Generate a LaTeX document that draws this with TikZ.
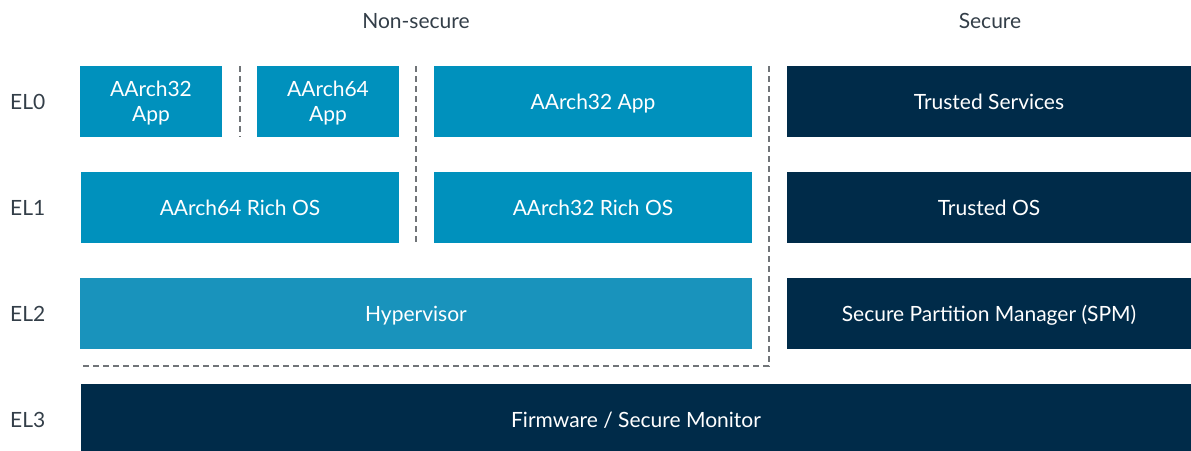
\documentclass[tikz,border=0pt]{standalone}
\usepackage{fontspec}
\setmainfont{Lato}
\definecolor{armblue}{HTML}{0091BD}
\definecolor{hypblue}{HTML}{1993BC}
\definecolor{armnavy}{HTML}{002B49}
\definecolor{labelgray}{HTML}{333E48}
\definecolor{dashgray}{HTML}{707478}
\tikzset{
  blk/.style={anchor=north west, inner sep=0pt, outer sep=0pt, text=white, align=center,
    font=\fontsize{21}{25}\selectfont, text height=15pt, text depth=0pt},
  twoline/.style={text height=40pt, text depth=0pt},
  nsbox/.style={blk, fill=armblue},
  hypbox/.style={blk, fill=hypblue},
  sbox/.style={blk, fill=armnavy},
  lbl/.style={text=labelgray, font=\fontsize{21}{25}\selectfont, inner sep=0pt, text height=15pt, text depth=0pt},
  sep/.style={draw=dashgray, line width=1.6pt, dash pattern=on 6pt off 4pt}
}
\begin{document}
\begin{tikzpicture}[x=1pt,y=-1pt]
\useasboundingbox (0,0) rectangle (1191,450);
\clip (0,0) rectangle (1191,450);
% headers
\node[lbl] (ns) at (416,21) {Non-secure};
\node[lbl] (sec) at (990,21) {Secure};
% EL labels
\node[lbl, anchor=west] (el0) at (10,101.5) {EL0};
\node[lbl, anchor=west] (el1) at (10,207.5) {EL1};
\node[lbl, anchor=west] (el2) at (10,313.5) {EL2};
\node[lbl, anchor=west] (el3) at (10,419.5) {EL3};
% EL0
\node[nsbox, twoline, minimum width=142pt, minimum height=71pt] (app32a) at (80,66) {AArch32\\App};
\node[nsbox, twoline, minimum width=142pt, minimum height=71pt] (app64) at (257,66) {AArch64\\App};
\node[nsbox, minimum width=318pt, minimum height=71pt] (app32b) at (434,66) {AArch32 App};
\node[sbox, minimum width=404pt, minimum height=71pt] (ts) at (787,66) {Trusted Services};
% EL1
\node[nsbox, minimum width=318pt, minimum height=71pt] (os64) at (81,172) {AArch64 Rich OS};
\node[nsbox, minimum width=318pt, minimum height=71pt] (os32) at (434,172) {AArch32 Rich OS};
\node[sbox, minimum width=404pt, minimum height=71pt] (tos) at (787,172) {Trusted OS};
% EL2
\node[hypbox, minimum width=672pt, minimum height=71pt] (hyp) at (80,278) {Hypervisor};
\node[sbox, minimum width=404pt, minimum height=71pt] (spm) at (787,278) {Secure Partition Manager (SPM)};
% EL3
\node[sbox, minimum width=1110pt, minimum height=71pt] (fw) at (81,384) {Firmware / Secure Monitor};
% separators
\coordinate (d1t) at (240,66);
\coordinate (d1b) at (240,137);
\coordinate (d2t) at (416,66);
\coordinate (d2b) at (416,243);
\coordinate (d3t) at (769,66);
\coordinate (d3c) at (769,366);
\coordinate (d3l) at (80,366);
\draw[sep] (d1t) -- (d1b);
\draw[sep] (d2t) -- (d2b);
\draw[sep] (d3t) -- (d3c) -- (d3l);
\end{tikzpicture}
\end{document}
